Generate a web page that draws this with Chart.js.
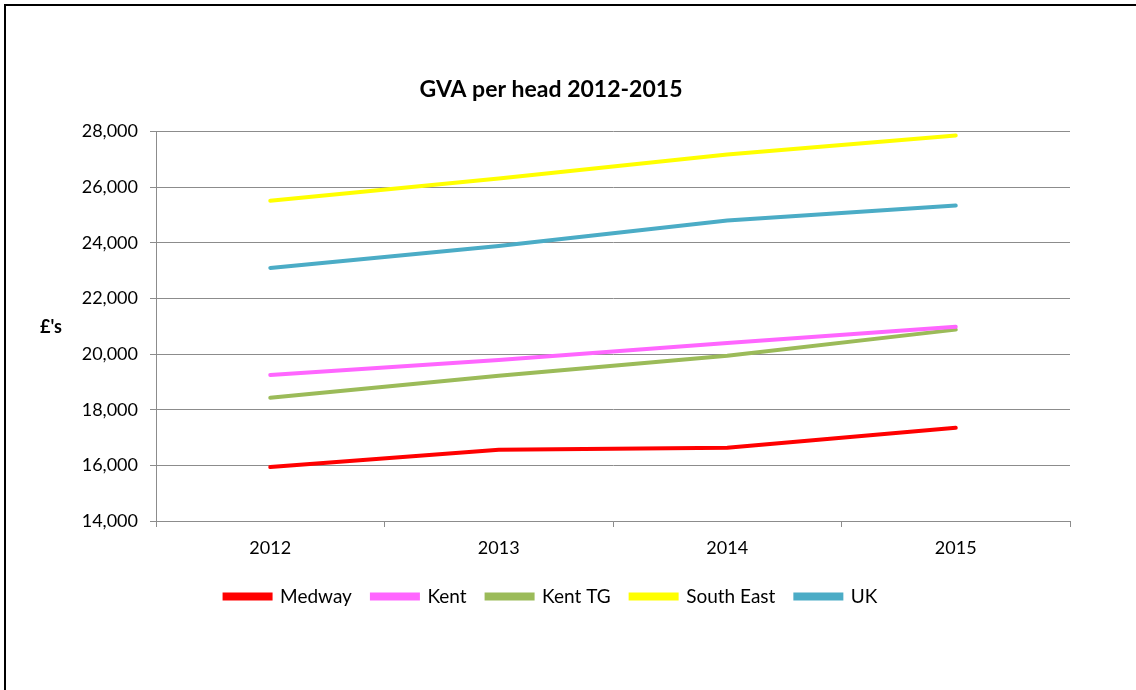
<!DOCTYPE html>
<html>
<head>
<meta charset="utf-8">
<script src="https://cdn.jsdelivr.net/npm/chart.js@4/dist/chart.umd.min.js"></script>
<style>
  html, body { margin: 0; padding: 0; background: #fff; overflow: hidden; }
  #frame {
    position: absolute; left: 4px; top: 4px;
    width: 1200px; height: 800px;
    border-left: 2px solid #000; border-top: 2px solid #000;
  }
  #wrap { position: absolute; left: 0; top: 0; width: 1136px; height: 690px; }
</style>
</head>
<body>
<div id="frame"></div>
<div id="wrap"><canvas id="chart" width="1136" height="690"></canvas></div>
<script>
// GVA per head, £
const years = ['2012', '2013', '2014', '2015'];
const medway = [15940, 16560, 16630, 17350];
const kent = [19250, 19790, 20400, 20980];
const kentTG = [18430, 19220, 19940, 20880];
const southEast = [25510, 26310, 27180, 27860];
const uk = [23100, 23890, 24800, 25340];

const FONT = 'Lato, "Open Sans", sans-serif';

function line(label, data, color) {
  return {
    label, data,
    borderColor: color,
    backgroundColor: color,
    borderWidth: 4,
    pointRadius: 0,
    tension: 0,
    borderCapStyle: 'round',
  };
}

// horizontal "£'s" axis title, Excel style
const yTitle = {
  id: 'yTitle',
  afterDraw(chart) {
    const { ctx, chartArea } = chart;
    ctx.save();
    ctx.font = 'bold 18px ' + FONT;
    ctx.fillStyle = '#000';
    ctx.textAlign = 'center';
    ctx.textBaseline = 'middle';
    ctx.fillText("£'s", 51, (chartArea.top + chartArea.bottom) / 2 + 1);
    ctx.restore();
  },
};

new Chart(document.getElementById('chart'), {
  type: 'line',
  data: {
    labels: years,
    datasets: [
      line('Medway', medway, '#FF0000'),
      line('Kent', kent, '#FF66FF'),
      line('Kent TG', kentTG, '#9BBB59'),
      line('South East', southEast, '#FFFF00'),
      line('UK', uk, '#4BACC6'),
    ],
  },
  options: {
    responsive: false,
    animation: false,
    layout: { padding: { left: 32, right: 66, top: 76, bottom: 74 } },
    plugins: {
      title: {
        display: true,
        text: 'GVA per head 2012-2015',
        color: '#000',
        font: { family: FONT, size: 23, weight: 'bold' },
        padding: { top: 0, bottom: 28 },
      },
      legend: {
        position: 'bottom',
        labels: {
          color: '#000',
          font: { family: FONT, size: 19 },
          boxWidth: 46,
          boxHeight: 4,
          padding: 20,
        },
      },
      tooltip: { enabled: false },
    },
    scales: {
      x: {
        offset: true,
        ticks: { color: '#000', font: { family: FONT, size: 18 }, padding: 10 },
        grid: { drawOnChartArea: false, offset: true, tickLength: 6, color: '#8c8c8c' },
        border: { color: '#8c8c8c' },
        afterFit(s) { s.height = 46; },
      },
      y: {
        min: 14000,
        max: 28000,
        ticks: {
          stepSize: 2000,
          color: '#000',
          font: { family: FONT, size: 18 },
          padding: 12,
          callback: (v) => v.toLocaleString('en-GB'),
        },
        grid: { tickLength: 6, color: '#8c8c8c' },
        border: { color: '#8c8c8c' },
        afterFit(s) { s.width = 124; },
      },
    },
  },
  plugins: [yTitle],
});
</script>
</body>
</html>
